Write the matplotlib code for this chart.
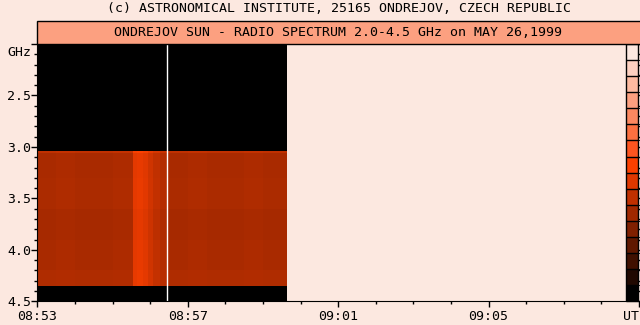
import numpy as np
import matplotlib
matplotlib.use("Agg")
import matplotlib.pyplot as plt
import matplotlib.cm as cm
from matplotlib.colors import ListedColormap, LinearSegmentedColormap, BoundaryNorm
from matplotlib.patches import Rectangle
from matplotlib.ticker import MultipleLocator

# -------------------------------------------
# Data
# -------------------------------------------
# 16 level palette, weakest (black) -> strongest (lightest)
palette = ["#000000", "#200800", "#401000", "#601800", "#802000", "#A02800",
           "#C03000", "#E03800", "#FC4000", "#FC5520", "#FC7040", "#FC8860",
           "#FCA080", "#FDBAA0", "#FDD0C0", "#FCE8E0"]

# time slots, minutes after 08:53 UT, and mean level in each slot
t_edges = [0.0, 0.5, 1.0, 1.5, 2.0, 2.55, 2.65, 2.81, 2.95, 3.08, 3.26, 3.45,
           4.0, 4.5, 5.0, 5.5, 6.0, 6.65]
t_level = [5.3, 5.4, 5.3, 5.3, 5.4, 7.1, 7.3, 7.0, 6.5, 6.0, 5.6, 5.3,
           5.4, 5.3, 5.3, 5.4, 5.3]

# frequency bands carrying signal (GHz) and their level offset
f_edges = [3.04, 3.055, 3.3, 3.6, 3.9, 4.2, 4.355]
f_offset = [0.7, 0.0, 0.05, -0.1, 0.0, 0.15]
f_start, f_stop = 2.0, 4.5

gap_time = 3.45  # white calibration line

x_ticks = [0, 4, 8, 12, 16]
x_labels = ["08:53", "08:57", "09:01", "09:05", "UT"]
y_ticks = [2.0, 2.5, 3.0, 3.5, 4.0, 4.5]
y_labels = ["", "2.5", "3.0", "3.5", "4.0", "4.5"]

title_top = "(c) ASTRONOMICAL INSTITUTE, 25165 ONDREJOV, CZECH REPUBLIC"
title_box = "ONDREJOV SUN - RADIO SPECTRUM 2.0-4.5 GHz on MAY 26,1999"

# -------------------------------------------
# Figure
# -------------------------------------------
W, H = 640, 325
bg = "#FCE8E0"
plt.rcParams['font.family'] = ['DejaVu Sans Mono']
plt.rcParams['font.size'] = 9.5

fig = plt.figure(figsize=(W / 100, H / 100), dpi=100, facecolor=bg)

left, right, top, bottom = 37.3, 639.0, 44.0, 301.3
ax = fig.add_axes([left / W, 1 - bottom / H, (right - left) / W, (bottom - top) / H])
ax.set_facecolor(bg)

# build the spectrum grid: black (no signal) above and below the band
rows_edges = [f_start] + f_edges + [f_stop]
Z = [np.zeros(len(t_level))]
for off in f_offset:
    Z.append(np.array(t_level) + off)
Z.append(np.zeros(len(t_level)))
Z = np.array(Z)

img_cmap = LinearSegmentedColormap.from_list("ondrejov", palette)
ax.pcolormesh(t_edges, rows_edges, Z, cmap=img_cmap, vmin=0, vmax=15,
              shading='flat', antialiased=False)
ax.axvline(gap_time, color='white', lw=1.0)

ax.set_xlim(0, 16)
ax.set_ylim(f_stop, f_start)
ax.spines['top'].set_visible(False)
ax.spines['right'].set_visible(False)
ax.set_xticks(x_ticks)
ax.set_xticklabels(x_labels)
ax.xaxis.set_minor_locator(MultipleLocator(1))
ax.set_yticks(y_ticks)
ax.set_yticklabels(y_labels)
ax.yaxis.set_minor_locator(MultipleLocator(0.1))
ax.tick_params(which='major', length=4, width=1, color='black')
ax.tick_params(which='minor', length=2.2, width=1, color='black')
ax.tick_params(axis='x', pad=2.5)
ax.tick_params(axis='y', pad=0.5)
ax.get_xticklabels()[-1].set_horizontalalignment('right')

# GHz unit in place of the 2.0 label
fig.text(31 / W, 1 - 52 / H, "GHz", ha='right', va='center')

# title lines
fig.text(339 / W, 1 - 9 / H, title_top, ha='center', va='center')
fig.add_artist(Rectangle((left / W, 1 - 43.5 / H), 1.02 - left / W, 22.5 / H,
                         transform=fig.transFigure, facecolor="#FCA080",
                         edgecolor='black', lw=1, clip_on=False))
fig.text(338 / W, 1 - 32 / H, title_box, ha='center', va='center')

# level scale on the right
cax = fig.add_axes([626 / W, 1 - bottom / H, 12.3 / W, (bottom - top) / H])
sm = cm.ScalarMappable(norm=BoundaryNorm(np.arange(17), 16), cmap=ListedColormap(palette))
cb = fig.colorbar(sm, cax=cax, drawedges=True)
cb.outline.set_linewidth(1)
cb.dividers.set_linewidth(1)
cax.set_yticks(np.linspace(0, 16, 26))
cax.set_yticklabels([])
cax.tick_params(length=2, width=1, direction='out')

fig.savefig("out.png", dpi=100, facecolor=bg)
